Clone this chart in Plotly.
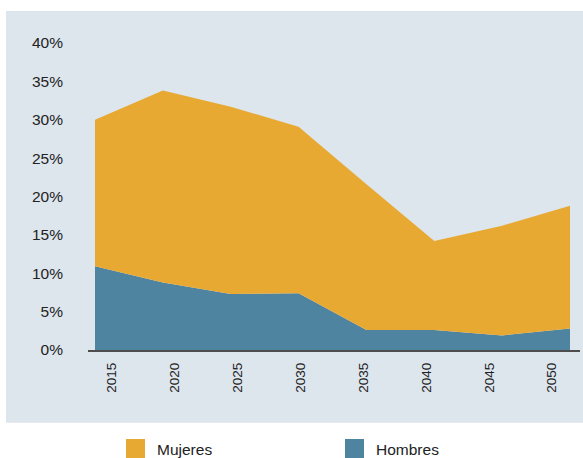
import plotly.graph_objects as go

# Share of population (fraction) by year, stacked by sex
years = [2015, 2020, 2025, 2030, 2035, 2040, 2045, 2050]
year_labels = ["2015", "2020", "2025", "2030", "2035", "2040", "2045", "2050"]
hombres = [0.109, 0.088, 0.073, 0.074, 0.026, 0.026, 0.019, 0.028]
mujeres = [0.191, 0.250, 0.244, 0.217, 0.190, 0.116, 0.143, 0.160]

ORANGE = "#E8A933"
BLUE = "#4F84A0"
PANEL = "#DDE5ED"
FONT = "Liberation Sans, Arial, sans-serif"

W, H = 583, 458
L, R, T, B = 88, 3, 43, 108
PW, PH = W - L - R, H - T - B


def px(x):
    return (x - L) / PW


def py(y):
    return (H - B - y) / PH


fig = go.Figure()
fig.add_trace(go.Scatter(x=years, y=hombres, name="Hombres", stackgroup="s",
                         mode="none", fillcolor=BLUE, hoverinfo="skip",
                         showlegend=False))
fig.add_trace(go.Scatter(x=years, y=mujeres, name="Mujeres", stackgroup="s",
                         mode="none", fillcolor=ORANGE, hoverinfo="skip",
                         showlegend=False))
# carrier trace for the category label axis
fig.add_trace(go.Scatter(x=list(range(len(year_labels))), y=[None] * len(year_labels),
                         xaxis="x2", mode="markers", showlegend=False,
                         hoverinfo="skip"))

# year axis: first year sits 7 px in from the axis start, last year 10 px before its end
ppy = (PW - 17) / (years[-1] - years[0])
x_range = [years[0] - 7 / ppy, years[-1] + 10 / ppy]

# label axis: evenly spaced labels starting 24 px in, 62.86 px apart
step = 62.857
lab_range = [-24 / step, (PW - 24) / step]

shapes = [
    dict(type="rect", xref="paper", yref="paper", layer="below",
         x0=px(6), x1=px(W), y0=py(422.7), y1=py(11),
         fillcolor=PANEL, line=dict(width=0)),
    dict(type="rect", xref="paper", yref="paper",
         x0=px(126), x1=px(145), y0=py(458), y1=py(439),
         fillcolor=ORANGE, line=dict(width=0)),
    dict(type="rect", xref="paper", yref="paper",
         x0=px(345), x1=px(364), y0=py(458), y1=py(439),
         fillcolor=BLUE, line=dict(width=0)),
]
annotations = [
    dict(text="Mujeres", xref="paper", yref="paper", x=px(155), y=py(449),
         xanchor="left", yanchor="middle", showarrow=False,
         font=dict(size=15.5, color="#222222", family=FONT)),
    dict(text="Hombres", xref="paper", yref="paper", x=px(374), y=py(449),
         xanchor="left", yanchor="middle", showarrow=False,
         font=dict(size=15.5, color="#222222", family=FONT)),
]

fig.update_layout(
    width=W, height=H,
    margin=dict(l=L, r=R, t=T, b=B, pad=0),
    paper_bgcolor="white", plot_bgcolor="rgba(0,0,0,0)",
    font=dict(family=FONT, color="#222222"),
    showlegend=False,
    shapes=shapes, annotations=annotations,
    xaxis=dict(range=x_range, showticklabels=False, showgrid=False,
               zeroline=False, ticks="", showline=True,
               linecolor="#4d4d4d", linewidth=1.5),
    xaxis2=dict(overlaying="x", anchor="y", side="bottom", range=lab_range,
                tickvals=list(range(len(year_labels))), ticktext=year_labels,
                tickangle=-90, ticks="", showgrid=False, zeroline=False,
                showline=False, ticklabelstandoff=9,
                tickfont=dict(size=13.5, color="#222222", family=FONT)),
    yaxis=dict(range=[0, 0.40], dtick=0.05, tickformat=".0%", showgrid=False,
               zeroline=False, showline=False, ticks="", ticklabelstandoff=24,
               tickfont=dict(size=15.5, color="#222222", family=FONT)),
)

fig.write_html("out.html")
